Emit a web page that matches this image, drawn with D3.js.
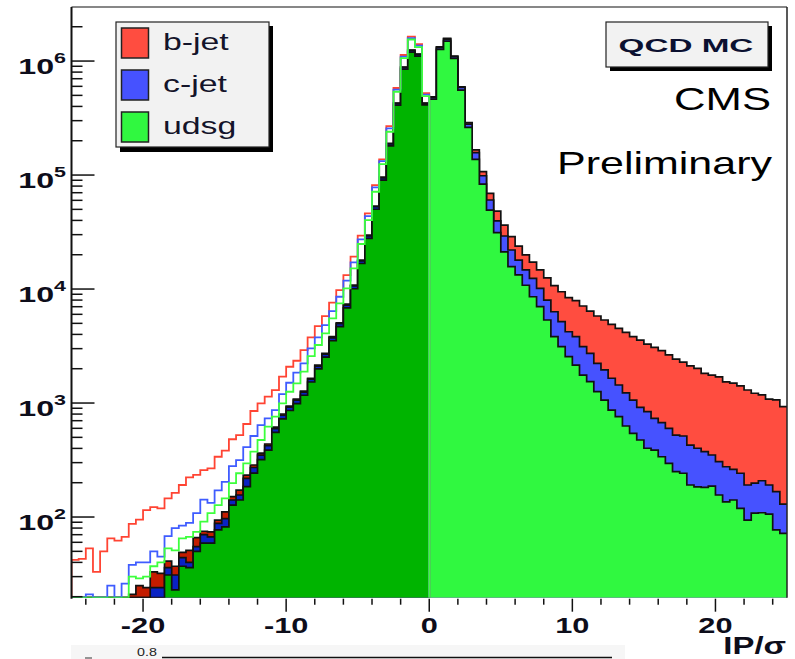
<!DOCTYPE html>
<html><head><meta charset="utf-8">
<script src="https://cdn.jsdelivr.net/npm/d3@7"></script>
<style>body{margin:0;background:#fff}svg{display:block}</style>
</head><body>
<svg id="chart" width="795" height="659"></svg>
<script>
// IP significance histograms, 0.5-wide bins
const binWidth = 0.5;
const negStart = -25;   // negative side: bins from -25 to 0
const posStart = 0;     // positive side: bins from 0 to 25

// positive side, stacked (udsg bottom, c, b on top)
const posU = [464000,1267000,1497000,1056000,557000,262000,137000,83400,49300,31200,
  21200,15700,13300,10800,8560,7000,5350,3820,3120,2550,
  2150,1760,1540,1260,1060,868,759,629,542,474,
  401,387,338,296,250,242,191,184,182,187,
  156,136,141,119,94,108,109,106,77,72];
const posC = [15000,46000,63000,38000,29000,18000,20000,15200,11100,8500,
  8000,6300,4650,3900,3840,3140,2660,2500,2050,1670,
  1670,1360,1190,970,890,782,681,601,518,443,
  438,347,334,304,274,272,237,217,192,163,
  150,140,121,123,97,90,99,85,90,58];
const posB = [7000,21000,21000,13000,9000,8000,9000,8400,8700,8600,
  7200,6800,5850,5200,4800,4600,4500,4400,4300,4200,
  4100,3980,3680,3570,3400,3250,3080,2940,2760,2650,
  2450,2350,2210,2040,1900,1770,1690,1610,1450,1410,
  1390,1260,1230,1170,1110,1020,970,890,900,800];

// negative side, stacked filled histograms
const negU = [0,0,0,0,0,0,0,0,0,0,
  0,12,12,31,23,37,36,50,59,59,
  77,82,127,141,185,243,319,387,552,726,
  860,989,1170,1530,1990,2530,3520,4680,6830,10060,
  16750,27800,50100,90400,180000,410000,850000,1200000,1105000,412000];
const negC = [0,0,0,0,0,0,0,0,0,5,
  8,12,12,5,8,7,4,5,11,8,
  11,15,14,15,33,29,30,35,45,55,
  60,70,75,90,120,150,210,280,400,580,
  900,1500,2600,4200,8000,15000,30000,40000,38000,13000];
const negB = [0,0,0,0,0,0,0,0,21,20,
  16,9,8,5,6,5,11,11,5,7,
  6,14,10,16,15,14,15,15,18,20,
  20,25,25,30,40,50,90,100,150,200,
  300,500,800,1200,2000,3000,6000,8000,8000,3000];

// negative side, stacked outline histograms
const negOutU = [0,0,0,0,0,0,0,0,30,29,
  30,37,40,53,51,65,67,74,91,108,
  127,146,198,242,296,374,474,620,759,994,
  1256,1489,1883,2583,3228,4083,5534,7499,10140,15200,
  24830,40280,71400,124800,239900,538000,1062000,1545000,1327000,493000];
const negOutC = [0,0,21,0,0,25,0,26,8,11,
  10,13,5,15,29,19,22,34,51,25,
  44,57,82,74,115,140,167,114,109,205,
  251,356,347,437,542,747,876,1061,1690,1950,
  2470,3420,6600,7900,17100,24000,32000,47000,41000,15000];
const negOutB = [42,43,32,33,50,40,62,41,49,55,
  75,72,74,78,83,107,134,126,116,134,
  167,179,201,208,244,337,353,402,432,503,
  574,505,687,750,963,967,1176,1240,1440,2100,
  2100,2450,3700,4700,12000,18000,36000,49000,42000,16000];

const legendLabels = ["b-jet","c-jet","udsg"];
const xMajorTicks = [-20,-10,0,10,20];
const yExponents = [2,3,4,5,6];

const svg = d3.select("#chart");
const L = 71.5, R = 787, T = 7, B = 597.7;
const FONT = "Liberation Sans, Arial, Helvetica, sans-serif";
const SX = 1.43;   // horizontal stretch of the lettering

const x = d3.scaleLinear().domain([-25,25]).range([L,R]);
const y = d3.scaleLog().domain([19.6,2.98e6]).range([B,T]).clamp(true);
const yv = v => y(Math.max(v,1e-3));

// cumulative sums for stacking
const cum = (...arrs) => arrs[0].map((_,i)=>arrs.reduce((s,a)=>s+a[i],0));

function steps(vals, start){
  const pts=[];
  vals.forEach((v,i)=>{ pts.push([start+i*binWidth,v]); pts.push([start+(i+1)*binWidth,v]); });
  return pts;
}

// text placed at (px,py), stretched horizontally about its anchor
function label(px, py, anchor, size, opts={}){
  const gg = svg.append("g").attr("transform",`translate(${px},${py}) scale(${opts.sx||SX},1)`);
  return gg.append("text").attr("x",0).attr("y",0).attr("text-anchor",anchor)
    .attr("font-family",FONT).attr("font-size",size)
    .attr("font-weight",opts.weight||"normal").attr("fill",opts.fill||"#000");
}

svg.append("defs").append("clipPath").attr("id","frame")
  .append("rect").attr("x",L).attr("y",T).attr("width",R-L).attr("height",B-T);
const g = svg.append("g").attr("clip-path","url(#frame)");

const area = d3.area().x(d=>x(d[0])).y0(B).y1(d=>yv(d[1]));
const line = d3.line().x(d=>x(d[0])).y(d=>yv(d[1]));

function stack(layers, start){
  // layers listed from top of the stack down
  layers.forEach(l=>{
    const pts = steps(l.vals,start);
    g.append("path").attr("d",area(pts)).attr("fill",l.fill).attr("stroke","none");
    g.append("path").attr("d",line(pts)).attr("fill","none")
      .attr("stroke","#111").attr("stroke-width",1.7);
  });
}

// negative filled stack (dark shades)
stack([
  {vals:cum(negU,negC,negB), fill:"#c41c00"},
  {vals:cum(negU,negC), fill:"#0a22c4"},
  {vals:negU, fill:"#00b400"}
], negStart);

// positive filled stack
stack([
  {vals:cum(posU,posC,posB), fill:"#ff4d40"},
  {vals:cum(posU,posC), fill:"#4652ff"},
  {vals:posU, fill:"#30f840"}
], posStart);

// negative outline stack
[
  {vals:cum(negOutU,negOutC,negOutB), color:"#ff4433"},
  {vals:cum(negOutU,negOutC), color:"#3f5cff"},
  {vals:negOutU, color:"#3cff3c"}
].forEach(l=>{
  const pts = [[negStart,0], ...steps(l.vals,negStart), [0,0]];
  g.append("path").attr("d",line(pts)).attr("fill","none")
    .attr("stroke",l.color).attr("stroke-width",1.8);
});

// frame
svg.append("line").attr("x1",L).attr("x2",R).attr("y1",T).attr("y2",T).attr("stroke","#111").attr("stroke-width",1.2);
svg.append("line").attr("x1",R).attr("x2",R).attr("y1",T).attr("y2",B).attr("stroke","#222").attr("stroke-width",1.5);
svg.append("line").attr("x1",L).attr("x2",L).attr("y1",T).attr("y2",B+1).attr("stroke","#111").attr("stroke-width",2);

// y ticks (inside) and labels
const yMinor=[];
for(let e=1;e<=6;e++) for(let m=2;m<=9;m++){ const v=m*Math.pow(10,e); if(v>=19.6 && v<=2.98e6) yMinor.push(v); }
yMinor.forEach(v=>svg.append("line").attr("x1",L).attr("x2",L+11).attr("y1",y(v)).attr("y2",y(v)).attr("stroke","#111").attr("stroke-width",1.5));
yExponents.forEach(e=>{
  const yy=y(Math.pow(10,e));
  svg.append("line").attr("x1",L).attr("x2",L+23).attr("y1",yy).attr("y2",yy).attr("stroke","#111").attr("stroke-width",1.5);
  const t = label(66, yy+13, "end", 22.5, {weight:"bold", fill:"#0d0d1a"});
  t.append("tspan").text("10");
  t.append("tspan").attr("font-size",15).attr("dy",-11).text(String(e));
});

// x ticks (outside) and labels
d3.range(-24,25,2).forEach(v=>{
  const major = xMajorTicks.includes(v);
  svg.append("line").attr("x1",x(v)).attr("x2",x(v)).attr("y1",B+1).attr("y2",B+(major?14:7))
    .attr("stroke","#111").attr("stroke-width",1.5);
});
xMajorTicks.forEach(v=>{
  label(x(v), 633, "middle", 21.5, {weight:"bold", fill:"#0d0d1a"}).text(String(v));
});
label(786, 654, "end", 23, {weight:"bold", fill:"#0d0d1a"}).text("IP/σ");

// legend
svg.append("rect").attr("x",120).attr("y",26).attr("width",153).attr("height",126).attr("fill","#000");
svg.append("rect").attr("x",116).attr("y",22).attr("width",153).attr("height",125).attr("fill","#f2f2f2").attr("stroke","#222").attr("stroke-width",1.2);
const legendColors=["#ff4d40","#4652ff","#30f840"];
legendLabels.forEach((lab,i)=>{
  const y0 = 28 + i*42;
  svg.append("rect").attr("x",121.5).attr("y",y0).attr("width",27).attr("height",30)
    .attr("fill",legendColors[i]).attr("stroke","#222").attr("stroke-width",1.5);
  label(163, y0+21.5, "start", 24.5, {fill:"#14142a", sx:1.38}).text(lab);
});

// sample tag
svg.append("rect").attr("x",610).attr("y",26).attr("width",162).attr("height",45).attr("fill","#000");
svg.append("rect").attr("x",606).attr("y",22).attr("width",162).attr("height",45).attr("fill","#f2f2f2").attr("stroke","#222").attr("stroke-width",1.2);
label(686, 51.5, "middle", 19, {weight:"900", fill:"#0b1030", sx:1.75}).text("QCD MC");

label(771, 110, "end", 30.5).text("CMS");
label(772, 174, "end", 30.5, {sx:1.41}).text("Preliminary");

// strip of the next panel below
svg.append("rect").attr("x",71).attr("y",645).attr("width",554).attr("height",14).attr("fill","#f6f6f6");
svg.append("line").attr("x1",162).attr("x2",612).attr("y1",657.5).attr("y2",657.5).attr("stroke","#111").attr("stroke-width",1.5);
svg.append("line").attr("x1",85).attr("x2",92).attr("y1",658).attr("y2",658).attr("stroke","#333").attr("stroke-width",1);
label(137, 656, "start", 10, {fill:"#222"}).text("0.8");
</script>
</body></html>
